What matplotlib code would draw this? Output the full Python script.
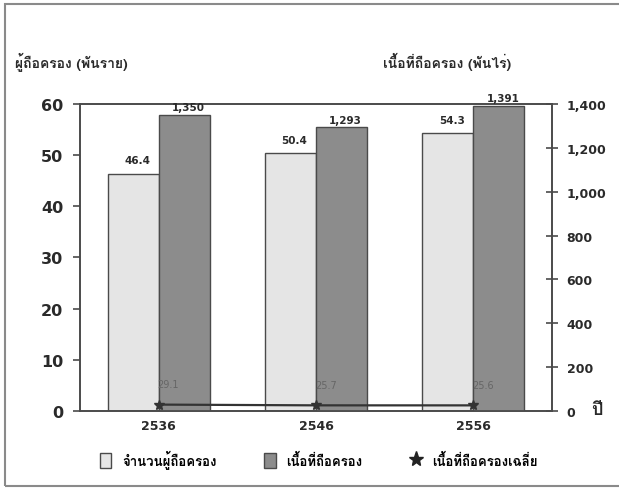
import numpy as np
import matplotlib
matplotlib.use('Agg')
import matplotlib.pyplot as plt
from matplotlib import font_manager
from matplotlib.patches import Patch, Rectangle
from matplotlib.lines import Line2D

# ---- data ----
years = ['2536', '2546', '2556']
holders = [46.4, 50.4, 54.3]          # พันราย
area = [1350, 1293, 1391]             # พันไร่
avg_area = [29.1, 25.7, 25.6]         # ไร่ต่อราย
area_labels = ['1,350', '1,293', '1,391']

# ---- Thai font: prefer one that has a bold face ----
fonts = font_manager.fontManager.ttflist
cands = ['Noto Sans Thai Looped', 'Tahoma', 'Loma', 'Noto Sans Thai', 'Sarabun',
         'Garuda', 'Bai Jamjuree', 'Chakra Petch']
thai = None
for cand in cands:
    if any(f.name == cand and f.weight in ('bold', 700) for f in fonts):
        thai = cand
        break
if thai is None:
    thai = next((c for c in cands if any(f.name == c for f in fonts)), 'DejaVu Sans')
plt.rcParams['font.family'] = ['DejaVu Sans', thai]
thai_fam = [thai, 'DejaVu Sans']

light = '#e5e5e5'
dark = '#8c8c8c'
edge = '#4a4a4a'
txt = '#2a2a2a'

fig = plt.figure(figsize=(6.19, 4.89), dpi=100)
ax = fig.add_axes([0.1292, 0.1575, 0.7626, 0.6278])
ax2 = ax.twinx()

x = np.arange(len(years))
w = 0.325

ax.bar(x - w / 2, holders, w, color=light, edgecolor=edge, linewidth=1)
ax2.bar(x + w / 2, area, w, color=dark, edgecolor=edge, linewidth=1)
ax2.plot(x, avg_area, color='#333333', lw=1.6, marker='*', ms=7)

for xi, v in zip(x, holders):
    ax.annotate(f'{v:.1f}', (xi - w / 2, v), xytext=(3, 6), textcoords='offset points',
                ha='center', va='bottom', fontsize=7.5, fontweight='bold', color=txt)
for xi, v, s in zip(x, area, area_labels):
    ax2.annotate(s, (xi + w / 2, v), xytext=(3, 2), textcoords='offset points',
                 ha='center', va='bottom', fontsize=7.5, fontweight='bold', color=txt,
                 annotation_clip=False)
for xi, v in zip(x, avg_area):
    ax2.annotate(f'{v:.1f}', (xi, v), xytext=(7, 11), textcoords='offset points',
                 ha='center', va='bottom', fontsize=7, color='#666666')

ax.set_xlim(-0.5, 2.5)
ax.set_ylim(0, 60)
ax2.set_ylim(0, 1400)
ax.set_yticks(range(0, 61, 10))
ax2.set_yticks(range(0, 1401, 200))
ax2.set_yticklabels([f'{v:,}' for v in range(0, 1401, 200)])
ax.set_xticks(x)
ax.set_xticklabels(years)

ax.tick_params(axis='y', length=5, width=1.2, color=edge, labelsize=11.5, pad=7, labelcolor=txt)
ax.tick_params(axis='x', length=0, labelsize=9, pad=6, labelcolor=txt)
ax2.tick_params(axis='y', direction='inout', length=9, width=1.2, color=edge,
                labelsize=9, pad=6, labelcolor=txt)
for lab in ax.get_yticklabels() + ax.get_xticklabels() + ax2.get_yticklabels():
    lab.set_fontweight('bold')

for a in (ax, ax2):
    for sp in a.spines.values():
        sp.set_color(edge)
        sp.set_linewidth(1.2)

fig.text(15 / 619, 1 - 62 / 489, 'ผู้ถือครอง (พันราย)', ha='left', va='center',
         fontsize=10, fontweight='bold', color=txt, family=thai_fam)
fig.text(383 / 619, 1 - 62 / 489, 'เนื้อที่ถือครอง (พันไร่)', ha='left', va='center',
         fontsize=10, fontweight='bold', color=txt, family=thai_fam)
fig.text(597 / 619, 1 - 410 / 489, 'ปี', ha='center', va='center',
         fontsize=13, fontweight='bold', color=txt, family=thai_fam)

handles = [Patch(facecolor=light, edgecolor=edge),
           Patch(facecolor=dark, edgecolor=edge),
           Line2D([], [], color='#222222', marker='*', ms=11, lw=0)]
labels = ['จำนวนผู้ถือครอง', 'เนื้อที่ถือครอง', 'เนื้อที่ถือครองเฉลี่ย']
fig.legend(handles, labels, loc='center', bbox_to_anchor=(0.515, 1 - 460 / 489), ncol=3,
           frameon=False, columnspacing=3.6, handlelength=0.9,
           handleheight=1.4, handletextpad=0.8,
           prop=font_manager.FontProperties(family=thai_fam, size=9.5, weight='bold'))

# outer frame of the scanned figure
fig.patches.append(Rectangle((5 / 619, 1 - 487 / 489), 1.05, 482 / 489,
                             transform=fig.transFigure, fill=False,
                             edgecolor='#8a8a8a', lw=1.5))

fig.savefig('out.png', dpi=100)
